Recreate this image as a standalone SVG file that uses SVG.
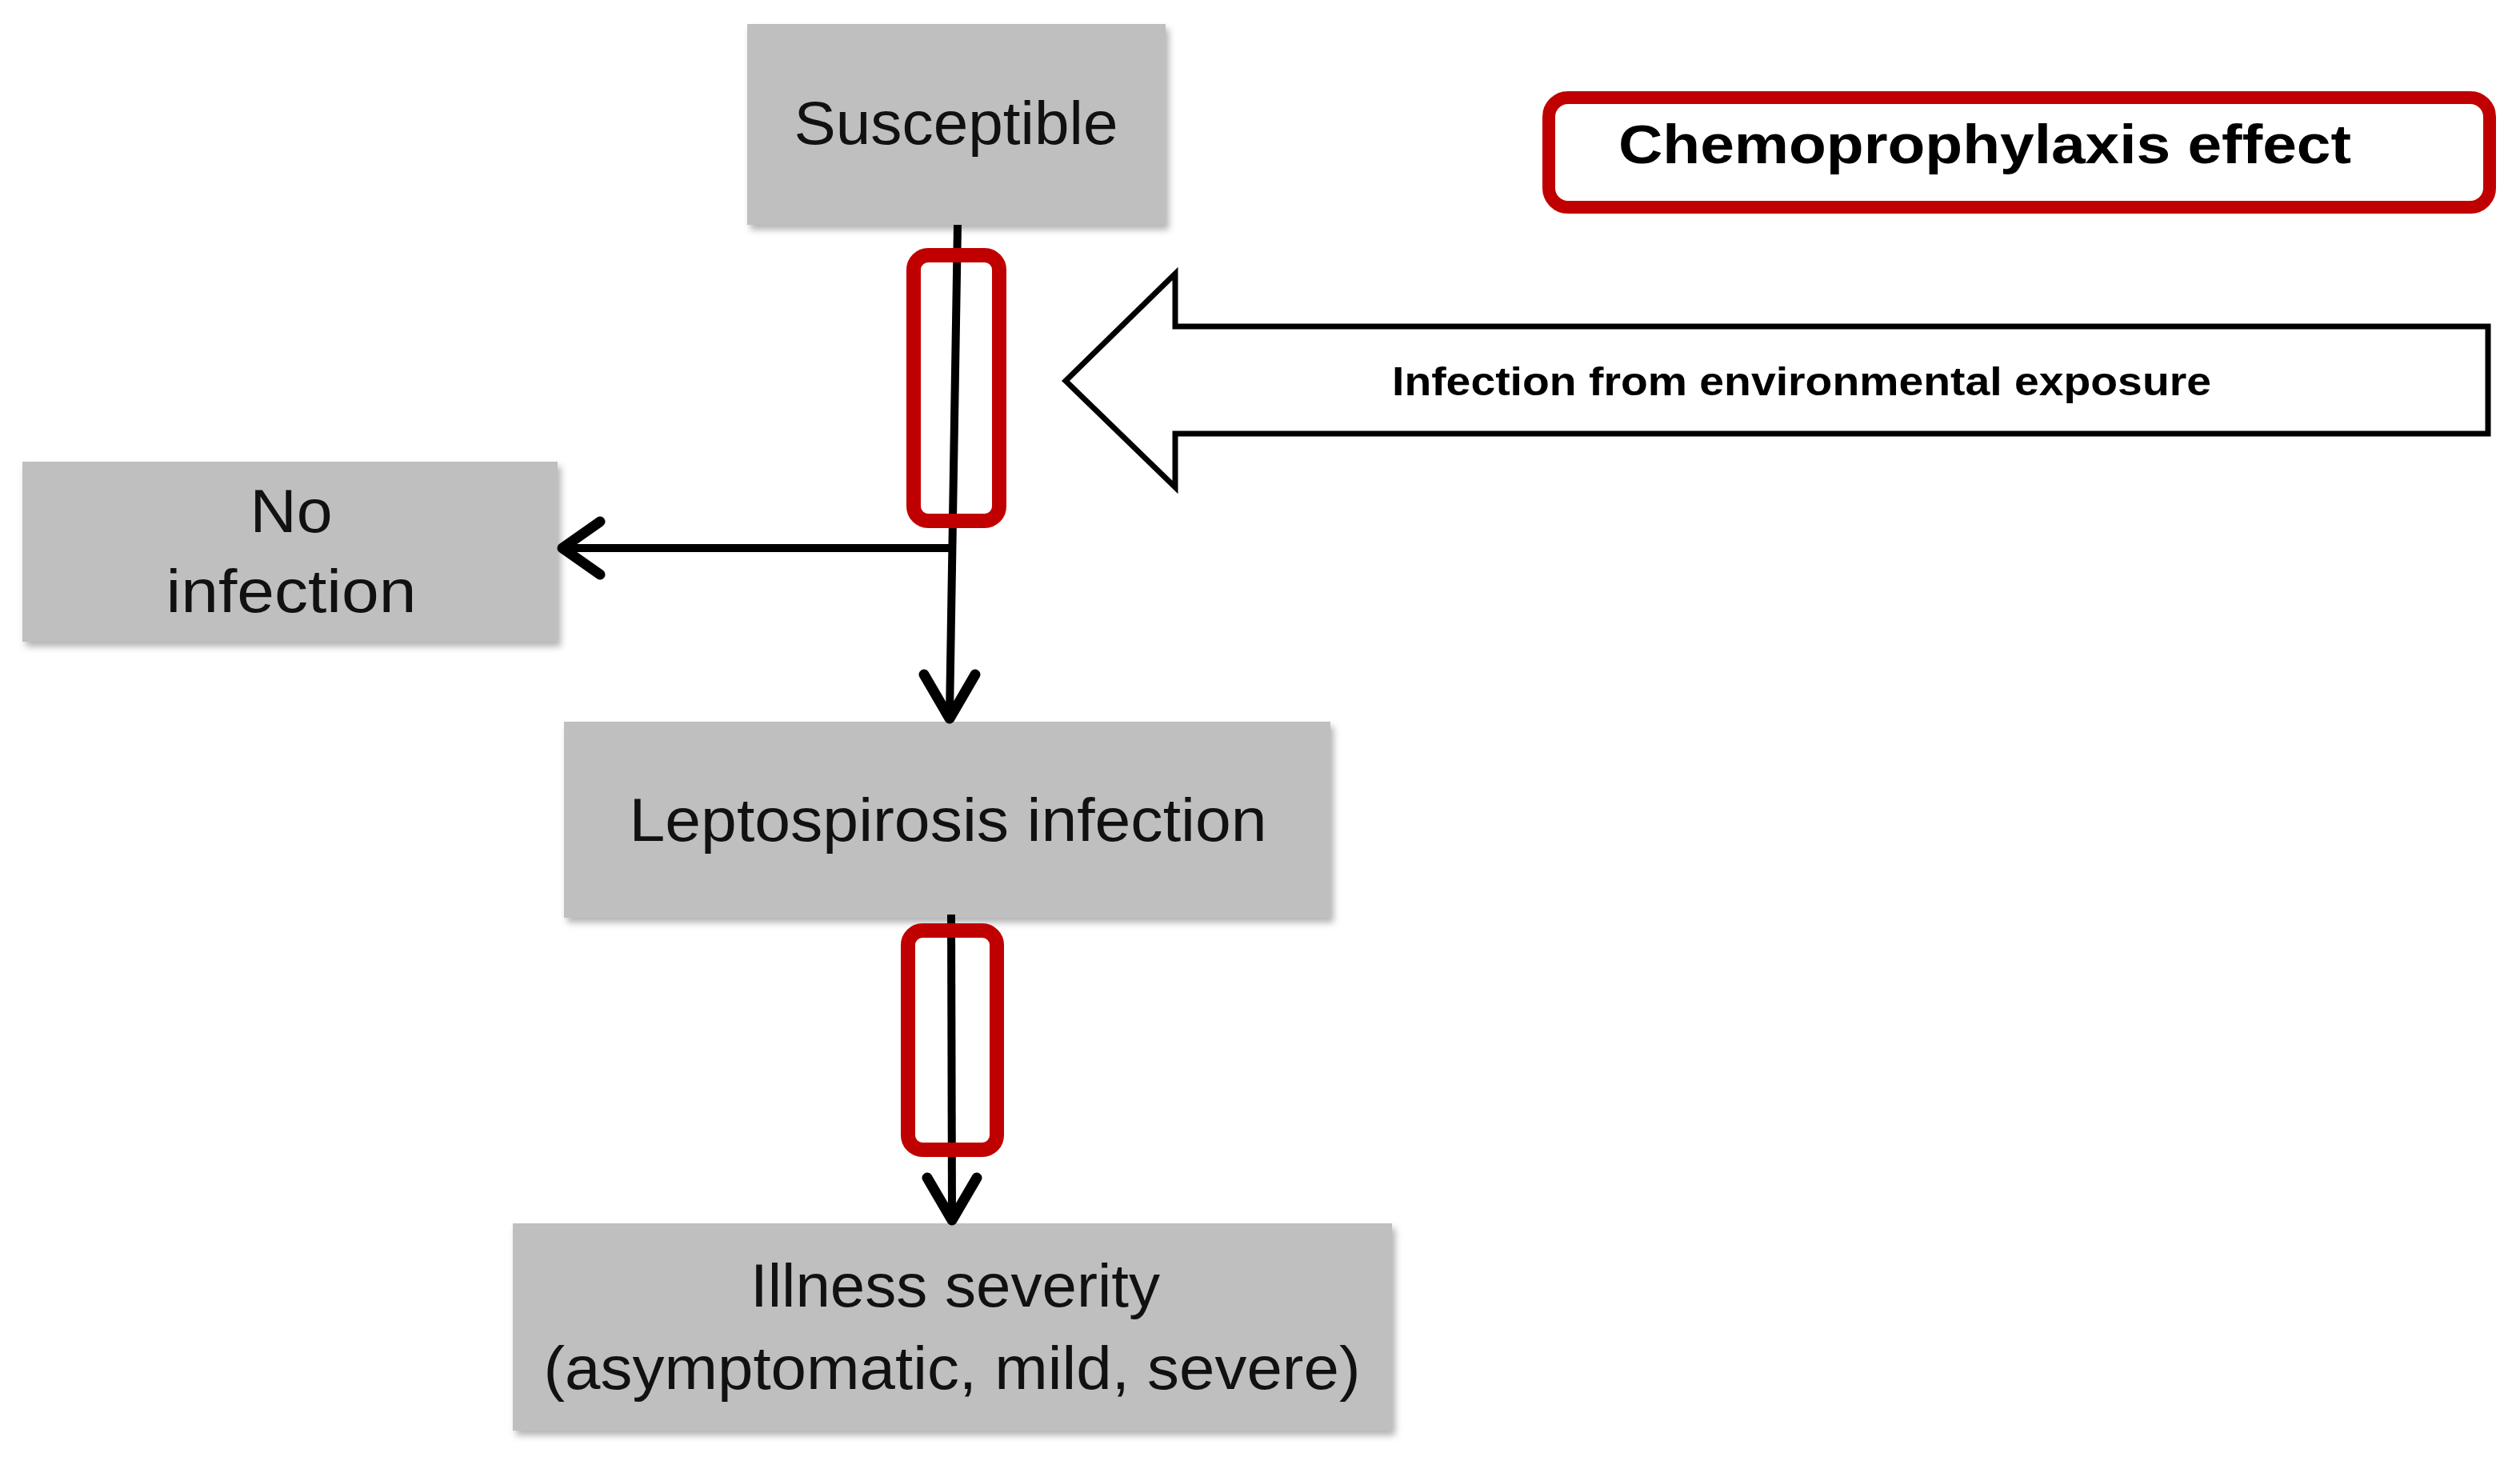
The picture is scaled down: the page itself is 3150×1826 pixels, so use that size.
<svg xmlns="http://www.w3.org/2000/svg" width="3150" height="1826" viewBox="0 0 3150 1826">
<style>
.box{fill:#bfbfbf;filter:url(#sh)}
.lbl{font-family:"Liberation Sans",Arial,sans-serif;font-size:76px;fill:#111;text-anchor:middle}
.bold{font-family:"Liberation Sans",Arial,sans-serif;font-weight:bold;fill:#000;text-anchor:middle}
.red{fill:none;stroke:#c00000;stroke-width:18}
.ln{fill:none;stroke:#000;stroke-width:10}
.hd{fill:none;stroke:#000;stroke-width:13;stroke-linecap:round;stroke-linejoin:round}
</style>
<defs>
<filter id="sh" x="-5%" y="-5%" width="115%" height="120%">
<feDropShadow dx="4" dy="6" stdDeviation="4" flood-color="#000" flood-opacity="0.3"/>
</filter>
</defs>
<rect width="3150" height="1826" fill="#fff"/>
<g id="node-susceptible">
<rect class="box" x="934" y="30" width="523" height="251"/>
<text class="lbl" x="1195" y="180" textLength="405" lengthAdjust="spacingAndGlyphs">Susceptible</text>
</g>
<g id="node-no-infection">
<rect class="box" x="28" y="577" width="669" height="225"/>
<text class="lbl" x="364" y="665" textLength="103" lengthAdjust="spacingAndGlyphs">No</text>
<text class="lbl" x="364" y="765" textLength="313" lengthAdjust="spacingAndGlyphs">infection</text>
</g>
<g id="node-lepto">
<rect class="box" x="705" y="902" width="958" height="245"/>
<text class="lbl" x="1185" y="1051" textLength="797" lengthAdjust="spacingAndGlyphs">Leptospirosis infection</text>
</g>
<g id="node-illness">
<rect class="box" x="641" y="1529" width="1099" height="259"/>
<text class="lbl" x="1194" y="1633" textLength="512" lengthAdjust="spacingAndGlyphs">Illness severity</text>
<text class="lbl" x="1190" y="1736" textLength="1021" lengthAdjust="spacingAndGlyphs">(asymptomatic, mild, severe)</text>
</g>
<g id="node-legend">
<rect x="1936" y="122" width="1176" height="137" rx="24" fill="#fff" stroke="#c00000" stroke-width="16"/>
<text class="bold" x="2481" y="204" font-size="68" textLength="916" lengthAdjust="spacingAndGlyphs">Chemoprophylaxis  effect</text>
</g>
<g id="node-exposure">
<path d="M1332,476 L1469,342 L1469,408 L3110,408 L3110,542 L1469,542 L1469,609 Z" fill="#fff" stroke="#000" stroke-width="7" stroke-linejoin="miter"/>
<text class="bold" x="2252" y="494" font-size="50" textLength="1024" lengthAdjust="spacingAndGlyphs">Infection from environmental exposure</text>
</g>
<g id="connectors">
<line class="ln" x1="1197" y1="281" x2="1187" y2="894"/>
<path class="hd" d="M1155,843 L1187,898 L1219,843"/>
<line class="ln" x1="1191" y1="685" x2="706" y2="685" stroke-width="14"/>
<path class="hd" d="M750,652 L703,685 L750,718" stroke-width="15"/>
<line class="ln" x1="1189" y1="1143" x2="1190" y2="1520"/>
<path class="hd" d="M1159,1472 L1190,1525 L1221,1472"/>
</g>
<g id="chemo-marks">
<rect class="red" x="1142" y="319" width="107" height="332" rx="18"/>
<rect class="red" x="1135" y="1163" width="111" height="274" rx="18"/>
</g>
</svg>
